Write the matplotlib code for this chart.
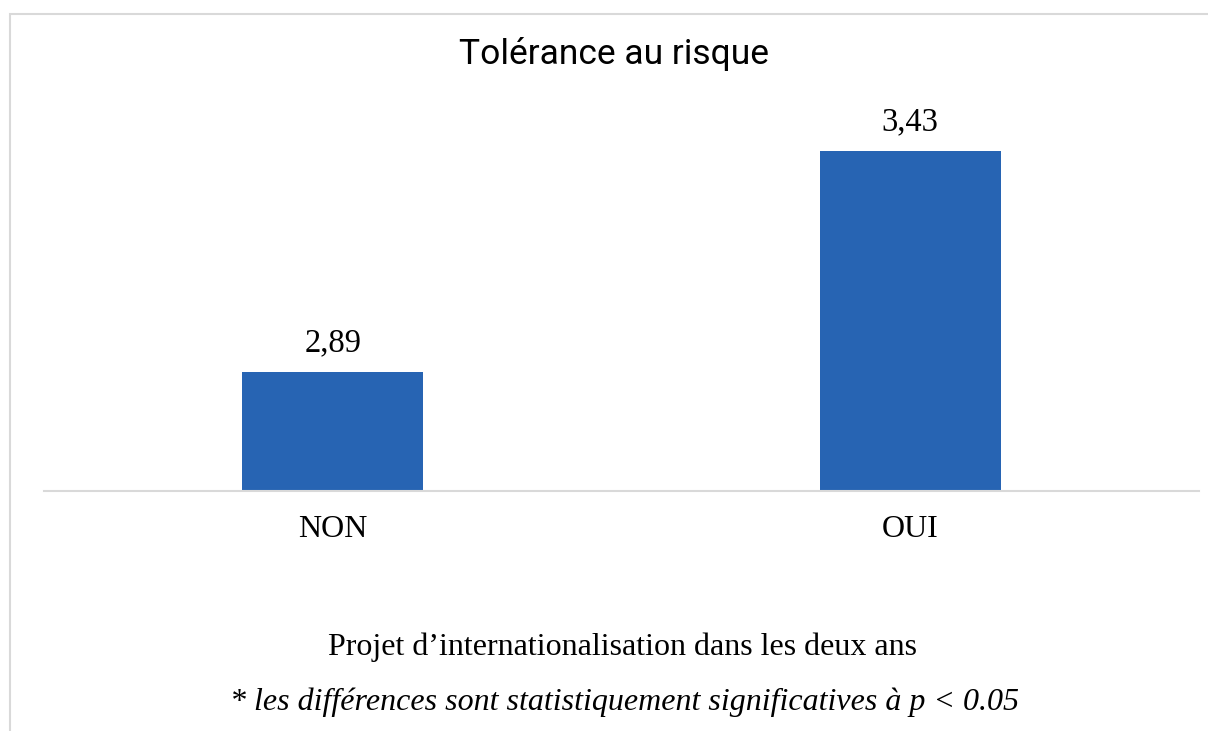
import matplotlib
matplotlib.use("Agg")
import matplotlib.pyplot as plt
from matplotlib.patches import Rectangle

# data
categories = ["NON", "OUI"]
values = [2.89, 3.43]
value_labels = ["2,89", "3,43"]
title = "Tolérance au risque"
xlabel = "Projet d\u2019internationalisation dans les deux ans"
note = "* les différences sont statistiquement significatives à p < 0.05"

bar_color = "#2764B3"
grid_color = "#D9D9D9"

fig = plt.figure(figsize=(12.08, 7.31), dpi=100)
W, H = 1208, 731

# outer frame (cut off at bottom and right like the reference)
fig.patches.append(Rectangle((9.5 / W, -0.1), 1.2, 1.1 - 13.5 / H,
                             transform=fig.transFigure, fill=False,
                             edgecolor=grid_color, linewidth=1.5))

ax = fig.add_axes([44 / W, 1 - 491 / H, (1199 - 44) / W, (491 - 81.4) / H])
x = range(len(categories))
bars = ax.bar(x, values, width=0.313, color=bar_color)
ax.set_xlim(-0.5, 1.5)
ax.set_ylim(2.6, 3.6)

for s in ["top", "right", "left"]:
    ax.spines[s].set_visible(False)
ax.spines["bottom"].set_color(grid_color)
ax.spines["bottom"].set_linewidth(1.5)
ax.set_yticks([])
ax.set_xticks(list(x))
ax.set_xticklabels(categories, fontfamily="Liberation Serif", fontsize=23)
ax.tick_params(axis="x", length=0, pad=17)

for xi, v, lab in zip(x, values, value_labels):
    ax.annotate(lab, (xi, v), xytext=(0, 10), textcoords="offset points",
                ha="center", va="bottom", fontfamily="Liberation Serif",
                fontsize=23.5)

fig.text(614 / W, 1 - 54 / H, title, ha="center", va="center",
         fontfamily="Roboto", fontsize=25.5)
fig.text(622 / W, 1 - 647 / H, xlabel, ha="center", va="center",
         fontfamily="Liberation Serif", fontsize=23)
fig.text(624 / W, 1 - 702 / H, note, ha="center", va="center",
         fontfamily="Liberation Serif", fontstyle="italic", fontsize=23)

fig.savefig("out.png", dpi=100)
